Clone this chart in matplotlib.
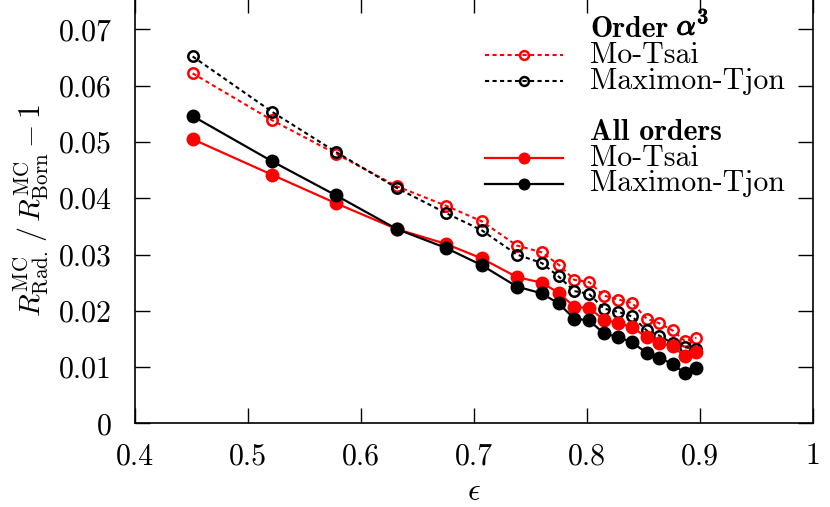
#!/usr/bin/env python3
"""Radiative correction ratio vs epsilon, Mo-Tsai and Maximon-Tjon."""

import matplotlib

matplotlib.use("Agg")
import matplotlib.pyplot as plt
import matplotlib.patheffects as pe
from matplotlib.ticker import FuncFormatter

eps = [0.451, 0.521, 0.578, 0.632, 0.675, 0.707, 0.738, 0.760, 0.775, 0.789,
       0.802, 0.815, 0.828, 0.840, 0.853, 0.864, 0.876, 0.887, 0.897]

mt_a3 = [0.0622, 0.0539, 0.0479, 0.0421, 0.0387, 0.0359, 0.0316, 0.0304, 0.0282, 0.0255,
         0.0251, 0.0227, 0.0220, 0.0214, 0.0186, 0.0178, 0.0165, 0.0146, 0.0152]
mtj_a3 = [0.0652, 0.0554, 0.0482, 0.0418, 0.0374, 0.0343, 0.0300, 0.0285, 0.0261, 0.0235,
          0.0230, 0.0204, 0.0198, 0.0190, 0.0165, 0.0156, 0.0142, 0.0135, 0.0133]
mt_all = [0.0505, 0.0442, 0.0391, 0.0345, 0.0319, 0.0293, 0.0260, 0.0250, 0.0232, 0.0207,
          0.0205, 0.0184, 0.0178, 0.0171, 0.0153, 0.0143, 0.0137, 0.0119, 0.0127]
mtj_all = [0.0546, 0.0466, 0.0405, 0.0345, 0.0312, 0.0281, 0.0243, 0.0231, 0.0213, 0.0186,
           0.0183, 0.0160, 0.0153, 0.0144, 0.0125, 0.0117, 0.0105, 0.0089, 0.0098]

x_ticks = [0.4, 0.5, 0.6, 0.7, 0.8, 0.9, 1.0]
y_ticks = [0, 0.01, 0.02, 0.03, 0.04, 0.05, 0.06, 0.07]


def main():
    plt.rcParams["font.family"] = "serif"
    plt.rcParams["font.serif"] = ["cmr10"]
    plt.rcParams["mathtext.fontset"] = "cm"
    plt.rcParams["axes.unicode_minus"] = False
    fs = 21.5

    fig = plt.figure(figsize=(8.3, 5.07), dpi=100)
    ax = fig.add_axes([0.1627, 0.165, 0.8165, 0.838])

    dash = dict(lw=1.5, dashes=(2.0, 1.6), marker="o", ms=7.5,
                mfc="none", mew=1.8)
    solid = dict(lw=1.6, marker="o", ms=9)
    ax.plot(eps, mt_a3, color="red", mec="red", **dash)
    ax.plot(eps, mtj_a3, color="black", mec="black", **dash)
    ax.plot(eps, mt_all, color="red", **solid)
    ax.plot(eps, mtj_all, color="black", **solid)

    ax.set_xlim(0.4, 1.0)
    ax.set_ylim(0, 0.0755)
    ax.set_xticks(x_ticks)
    ax.set_yticks(y_ticks)
    fmt = FuncFormatter(lambda v, p: "%g" % round(v, 3))
    ax.xaxis.set_major_formatter(fmt)
    ax.yaxis.set_major_formatter(fmt)
    ax.tick_params(direction="in", length=11, width=1, top=True, right=True,
                   labelsize=fs)
    ax.tick_params(axis="x", pad=14)
    ax.tick_params(axis="y", pad=17)
    for s in ax.spines.values():
        s.set_linewidth(1.2)

    ax.set_xlabel(r"$\epsilon$", fontsize=fs + 1, labelpad=6)
    ax.set_ylabel(r"$R^{\rm MC}_{\rm Rad.}\,/\,R^{\rm MC}_{\rm Born}-1$",
                  fontsize=fs, labelpad=6)

    # hand-made legend (two groups with bold headers)
    rows = [
        ("Order", None),
        ("Mo-Tsai", ("red", dash)),
        ("Maximon-Tjon", ("black", dash)),
        (None, None),
        ("All orders", None),
        ("Mo-Tsai", ("red", solid)),
        ("Maximon-Tjon", ("black", solid)),
    ]
    tr = ax.transAxes
    x0, x1, xt = 0.5165, 0.6315, 0.6715
    y_top, dy = 0.927, 0.0605
    renderer = fig.canvas.get_renderer()
    for i, (label, style) in enumerate(rows):
        y = y_top - i * dy
        if label is not None:
            if style is None:
                t = ax.text(xt, y, label, transform=tr, fontsize=fs,
                            family="cmb10", va="center", ha="left")
                if label == "Order":
                    bb = t.get_window_extent(renderer)
                    xa = tr.inverted().transform((bb.x1, bb.y0))[0] + 0.012
                    ax.text(xa, y + 0.01, r"$\alpha^{3}$", transform=tr,
                            fontsize=fs, va="center", ha="left",
                            path_effects=[pe.withStroke(linewidth=0.9,
                                                        foreground="black")])
            else:
                ax.text(xt, y, label, transform=tr, fontsize=fs,
                        va="center", ha="left")
        if style is not None:
            col, kw = style
            line_kw = {k: v for k, v in kw.items() if k in ("lw", "dashes")}
            ax.plot([x0, x1], [y, y], transform=tr, color=col, marker="None",
                    clip_on=False, **line_kw)
            ax.plot([(x0 + x1) / 2], [y], transform=tr, color=col, marker="o",
                    ls="none", mec=col, ms=kw["ms"] * 0.85,
                    mfc=kw.get("mfc", col), mew=kw.get("mew", 1))

    fig.savefig("out.png", dpi=100)


if __name__ == "__main__":
    main()
